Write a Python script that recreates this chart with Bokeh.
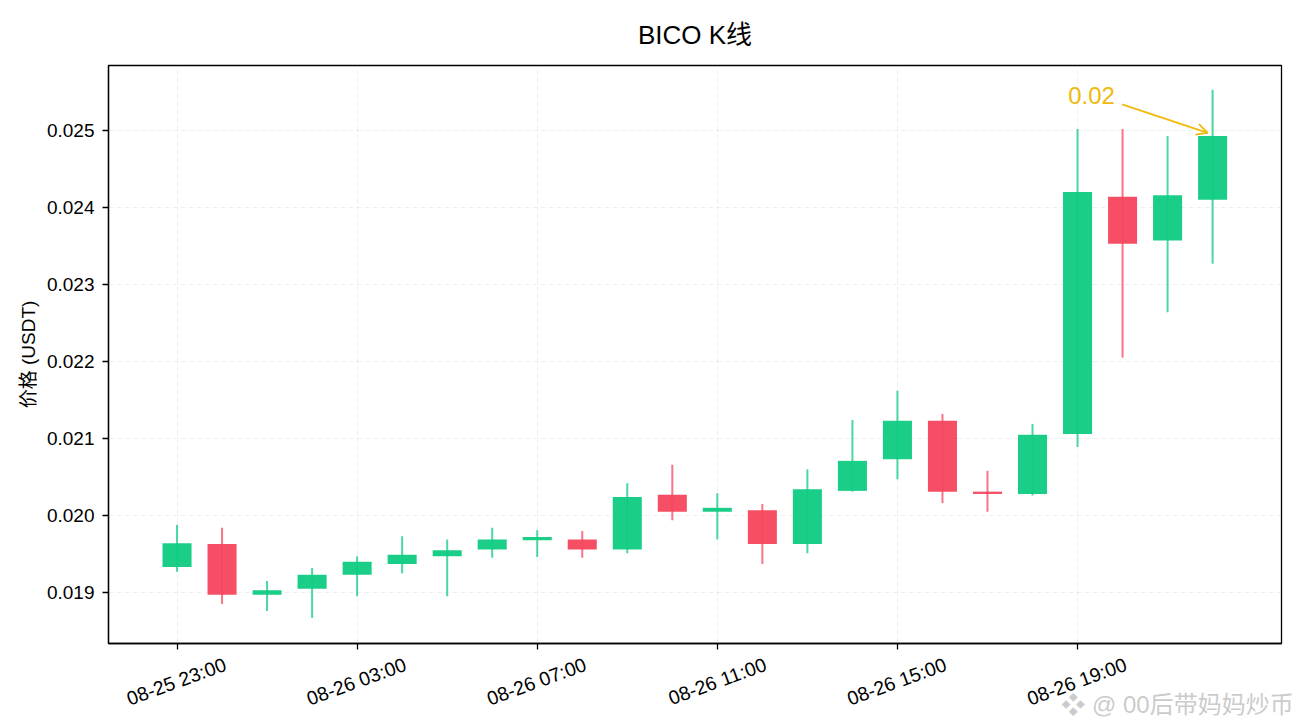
from bokeh.plotting import figure
from bokeh.models import Label, Arrow, OpenHead, FixedTicker, Range1d, NumeralTickFormatter, LinearAxis
from bokeh.embed import file_html
from bokeh.resources import INLINE

FONT = "Liberation Sans, Noto Sans CJK SC"
TITLE = "BICO K线"
Y_LABEL = "价格 (USDT)"
WATERMARK = "❖ @ 00后带妈妈炒币"
TICK_POS = [0, 4, 8, 12, 16, 20]
TICK_LABELS = ["08-25 23:00", "08-26 03:00", "08-26 07:00", "08-26 11:00", "08-26 15:00", "08-26 19:00"]
Y_TICKS = [0.019, 0.020, 0.021, 0.022, 0.023, 0.024, 0.025]

# body top / bottom, wick high / low
body_top = [0.01964, 0.01963, 0.01903, 0.01923, 0.01940, 0.01949, 0.01955, 0.01969, 0.01972, 0.01969, 0.02024, 0.02027,
            0.02010, 0.02007, 0.02034, 0.02071, 0.02123, 0.02123, 0.02031, 0.02105, 0.02420, 0.02414, 0.02416, 0.02493]
body_bot = [0.01933, 0.01897, 0.01897, 0.01905, 0.01923, 0.01937, 0.01947, 0.01956, 0.01968, 0.01956, 0.01956, 0.02005,
            0.02005, 0.01963, 0.01963, 0.02032, 0.02073, 0.02031, 0.02028, 0.02028, 0.02106, 0.02353, 0.02357, 0.02410]
high = [0.01988, 0.01984, 0.01915, 0.01932, 0.01947, 0.01973, 0.01969, 0.01984, 0.01981, 0.01980, 0.02042, 0.02066,
        0.02029, 0.02015, 0.02060, 0.02124, 0.02162, 0.02132, 0.02058, 0.02119, 0.02502, 0.02502, 0.02493, 0.02553]
low = [0.01927, 0.01885, 0.01876, 0.01867, 0.01895, 0.01925, 0.01895, 0.01945, 0.01946, 0.01945, 0.01951, 0.01994,
       0.01969, 0.01937, 0.01951, 0.02031, 0.02047, 0.02016, 0.02005, 0.02026, 0.02089, 0.02205, 0.02264, 0.02327]
is_up = [1, 0, 1, 1, 1, 1, 1, 1, 1, 0, 1, 0, 1, 0, 1, 1, 1, 0, 0, 1, 1, 0, 1, 1]

GREEN = "#0ECB81"
RED = "#F6465D"
GOLD = "#F0B90B"
X_START, X_END = -1.522, 24.53
LABEL_SHIFT = 1.07   # moves the end-anchored rotated labels so they centre on the ticks

x = list(range(len(high)))
colors = [GREEN if u else RED for u in is_up]

p = figure(width=1296, height=724, frame_width=1173, frame_height=578,
           output_backend="svg", toolbar_location=None,
           x_range=Range1d(X_START, X_END), y_range=Range1d(0.018338, 0.025844),
           min_border_left=108, min_border_top=65, min_border_right=15, min_border_bottom=81)
p.background_fill_color = "white"
p.outline_line_color = "black"
p.outline_line_width = 1.3
p.extra_x_ranges["labels"] = Range1d(X_START - LABEL_SHIFT, X_END - LABEL_SHIFT)

p.title.text = TITLE
p.title.align = "center"
p.title.text_font = FONT
p.title.text_font_size = "26px"
p.title.text_font_style = "normal"
p.title.text_color = "black"
p.title.standoff = 31

for g in (p.xgrid, p.ygrid):
    g.grid_line_color = "#b0b0b0"
    g.grid_line_alpha = 0.2
    g.grid_line_dash = "5 3"
    g.grid_line_width = 1

p.xaxis.ticker = FixedTicker(ticks=TICK_POS)
p.xaxis.major_label_overrides = {t: "" for t in TICK_POS}
p.yaxis.ticker = FixedTicker(ticks=Y_TICKS)
p.yaxis.formatter = NumeralTickFormatter(format="0.000")
p.yaxis.axis_label = Y_LABEL
p.yaxis.axis_label_text_font = FONT
p.yaxis.axis_label_text_font_size = "19px"
p.yaxis.axis_label_text_font_style = "normal"
p.yaxis.axis_label_text_color = "black"
for ax in (p.xaxis, p.yaxis):
    ax.major_label_text_font = FONT
    ax.major_label_text_font_size = "19px"
    ax.major_label_text_color = "black"
    ax.major_tick_in = 0
    ax.major_tick_out = 6
    ax.major_tick_line_width = 1.3
    ax.minor_tick_line_color = None
    ax.axis_line_width = 1.3
p.yaxis.major_label_standoff = 8
p.xaxis.major_label_standoff = 0

lab_axis = LinearAxis(x_range_name="labels", ticker=FixedTicker(ticks=TICK_POS),
                      major_label_overrides=dict(zip(TICK_POS, TICK_LABELS)),
                      major_label_orientation=0.349, major_label_text_font=FONT,
                      major_label_text_font_size="19.5px", major_label_text_color="black",
                      major_label_standoff=8, axis_line_color=None, major_tick_line_color=None,
                      minor_tick_line_color=None)
p.add_layout(lab_axis, "below")

# the page watermark sits on a bare axis of its own, under the tick labels
WM_POS = 22.22
wm_axis = LinearAxis(ticker=FixedTicker(ticks=[WM_POS]), major_label_overrides={WM_POS: WATERMARK},
                     major_label_text_font=FONT + ", DejaVu Sans", major_label_text_font_size="24px",
                     major_label_text_color="#bdbdbd", major_label_text_alpha=0.8,
                     major_label_standoff=-38, axis_line_color=None, major_tick_line_color=None,
                     minor_tick_line_color=None)
p.add_layout(wm_axis, "below")

p.segment(x, low, x, high, line_color=colors, line_width=2, line_alpha=0.75)
p.vbar(x=x, width=0.645, top=body_top, bottom=body_bot, fill_color=colors, fill_alpha=0.95, line_color=None)

p.add_layout(Label(x=20.83, y=high[-1] - 0.00007, text="0.02", text_color=GOLD, text_font=FONT,
                   text_font_size="24px", text_align="right", text_baseline="middle"))
p.add_layout(Arrow(x_start=20.99, y_start=0.02534, x_end=22.89, y_end=body_top[-1] + 0.00004,
                   line_color=GOLD, line_width=1.8,
                   end=OpenHead(size=11, line_color=GOLD, line_width=1.8)))

open("out.html", "w").write(file_html(p, INLINE))
